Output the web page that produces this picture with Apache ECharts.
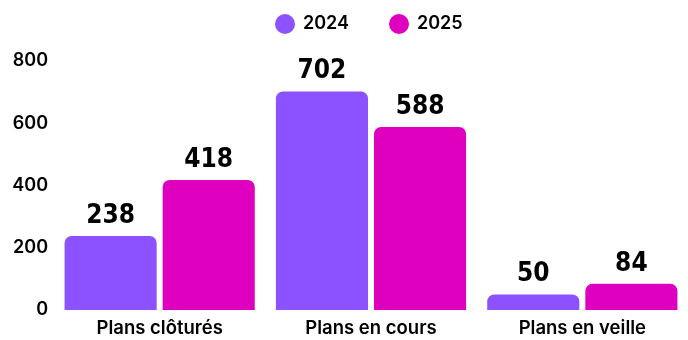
<!DOCTYPE html>
<html>
<head>
<meta charset="utf-8">
<script src="https://cdn.jsdelivr.net/npm/echarts@6/dist/echarts.min.js"></script>
<style>
html, body { margin: 0; padding: 0; background: #fff; }
#main { width: 688px; height: 340px; }
</style>
</head>
<body>
<div id="main"></div>
<script>
var categories = ['Plans clôturés', 'Plans en cours', 'Plans en veille'];
var values2024 = [238, 702, 50];
var values2025 = [418, 588, 84];
var yTicks = [0, 200, 400, 600, 800];

var chart = echarts.init(document.getElementById('main'));

var valueLabel = {
    show: true,
    position: 'top',
    distance: 7,
    color: '#000',
    fontFamily: 'DejaVu Sans Condensed',
    fontWeight: 'bold',
    fontSize: 26
};

var option = {
    animation: false,
    color: ['#8c52ff', '#df00bf'],
    legend: {
        top: 14,
        left: 275,
        padding: 0,
        icon: 'circle',
        itemWidth: 20,
        itemHeight: 20,
        itemGap: 40,
        textStyle: {
            color: '#000',
            fontFamily: 'Inter',
            fontWeight: 600,
            fontSize: 18,
            padding: [0, 0, 0, 3]
        },
        data: ['2024', '2025']
    },
    grid: {
        left: 54,
        right: -2,
        top: 61,
        bottom: 30
    },
    xAxis: {
        type: 'category',
        data: categories,
        axisLine: { show: false },
        axisTick: { show: false },
        axisLabel: {
            color: '#000',
            fontFamily: 'Inter',
            fontWeight: 600,
            fontSize: 18.5,
            margin: 9
        }
    },
    yAxis: {
        type: 'value',
        min: yTicks[0],
        max: yTicks[yTicks.length - 1],
        interval: 200,
        axisLine: { show: false },
        axisTick: { show: false },
        splitLine: { show: false },
        axisLabel: {
            color: '#000',
            fontFamily: 'Inter',
            fontWeight: 600,
            fontSize: 18,
            margin: 6
        }
    },
    series: [
        {
            name: '2024',
            type: 'bar',
            data: values2024,
            barGap: '6.5%',
            barCategoryGap: '10%',
            itemStyle: { borderRadius: [7, 7, 0, 0] },
            label: valueLabel
        },
        {
            name: '2025',
            type: 'bar',
            data: values2025,
            itemStyle: { borderRadius: [7, 7, 0, 0] },
            label: valueLabel
        }
    ]
};

chart.setOption(option);
window.addEventListener('resize', function () {
    chart.resize();
});
</script>
</body>
</html>
